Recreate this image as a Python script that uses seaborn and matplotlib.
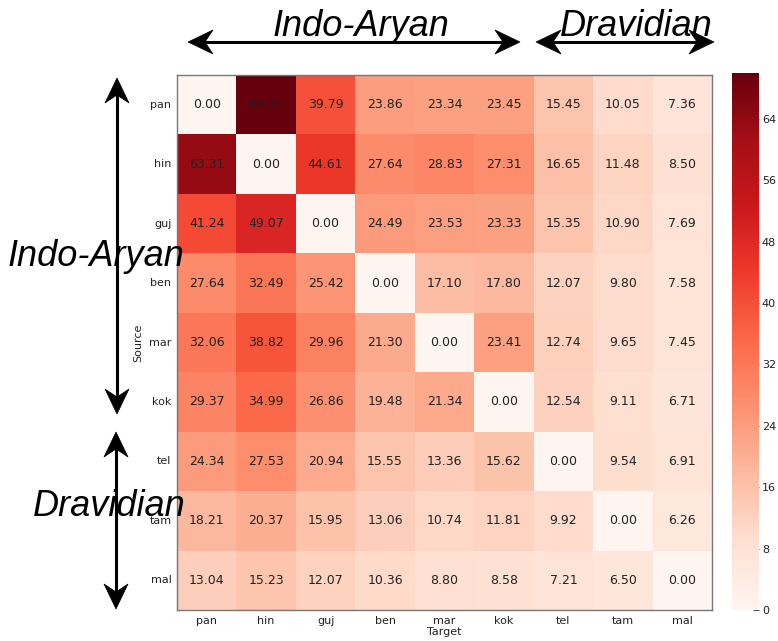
import numpy as np
import pandas as pd
import matplotlib
matplotlib.use("Agg")
import matplotlib.pyplot as plt
from matplotlib.patches import Polygon
from matplotlib.lines import Line2D
import seaborn as sns

langs = ["pan", "hin", "guj", "ben", "mar", "kok", "tel", "tam", "mal"]
row_pan = [0.00, 69.97, 39.79, 23.86, 23.34, 23.45, 15.45, 10.05, 7.36]
row_hin = [63.31, 0.00, 44.61, 27.64, 28.83, 27.31, 16.65, 11.48, 8.50]
row_guj = [41.24, 49.07, 0.00, 24.49, 23.53, 23.33, 15.35, 10.90, 7.69]
row_ben = [27.64, 32.49, 25.42, 0.00, 17.10, 17.80, 12.07, 9.80, 7.58]
row_mar = [32.06, 38.82, 29.96, 21.30, 0.00, 23.41, 12.74, 9.65, 7.45]
row_kok = [29.37, 34.99, 26.86, 19.48, 21.34, 0.00, 12.54, 9.11, 6.71]
row_tel = [24.34, 27.53, 20.94, 15.55, 13.36, 15.62, 0.00, 9.54, 6.91]
row_tam = [18.21, 20.37, 15.95, 13.06, 10.74, 11.81, 9.92, 0.00, 6.26]
row_mal = [13.04, 15.23, 12.07, 10.36, 8.80, 8.58, 7.21, 6.50, 0.00]
cbar_ticks = [0, 8, 16, 24, 32, 40, 48, 56, 64]

data = pd.DataFrame([row_pan, row_hin, row_guj, row_ben, row_mar, row_kok,
                     row_tel, row_tam, row_mal], index=langs, columns=langs)

sns.set_style("white")
plt.rcParams["font.family"] = ["DejaVu Sans"]

fig = plt.figure(figsize=(7.78, 6.41), dpi=100)
W, H = 778, 641
def fx(x): return x / W
def fy(y): return 1 - y / H

ax = fig.add_axes([fx(177), fy(610), fx(712) - fx(177), fy(75) - fy(610)])
cax = fig.add_axes([fx(732), fy(610), fx(759) - fx(732), fy(73) - fy(610)])

sns.heatmap(data, ax=ax, cbar_ax=cax, cmap="Reds", vmin=0, vmax=float(data.values.max()),
            annot=True, fmt=".2f", annot_kws={"color": "#222222", "fontsize": 9},
            cbar_kws={"ticks": cbar_ticks})

for s in ax.spines.values():
    s.set_visible(True)
    s.set_color("#777777")
    s.set_linewidth(1)
ax.tick_params(axis="both", which="both", direction="in", length=4, width=0.8,
               color="#555555", top=True, right=True, bottom=True, left=True,
               labelsize=8, labelcolor="#222222", pad=4)
ax.set_xticklabels(langs, rotation=0)
ax.set_yticklabels(langs, rotation=0)
ax.set_xlabel("Target", fontsize=8, color="#222222", labelpad=1)
ax.set_ylabel("Source", fontsize=8, color="#222222", labelpad=4)

cax.tick_params(direction="in", length=4, width=0.8, color="#555555",
                labelsize=8, labelcolor="#222222", pad=2)
cb = ax.collections[0].colorbar
cb.outline.set_visible(True)
cb.outline.set_edgecolor("#777777")

# overlay annotations: double-headed stealth arrows and group labels
def head(tip, d, L=25, w=12, notch=8):
    tx, ty = tip
    dx, dy = d
    nx, ny = -dy, dx
    pts = [(tx, ty),
           (tx + L * dx + w * nx, ty + L * dy + w * ny),
           (tx + (L - notch) * dx, ty + (L - notch) * dy),
           (tx + L * dx - w * nx, ty + L * dy - w * ny)]
    return Polygon([(fx(px), fy(py)) for px, py in pts], closed=True,
                   transform=fig.transFigure, facecolor="black", edgecolor="black",
                   lw=0.5)

def darrow(x1, y1, x2, y2):
    v = np.array([x2 - x1, y2 - y1], dtype=float)
    length = np.hypot(*v)
    u = v / length
    fig.add_artist(Line2D([fx(x1 + 10 * u[0]), fx(x2 - 10 * u[0])],
                          [fy(y1 + 10 * u[1]), fy(y2 - 10 * u[1])],
                          transform=fig.transFigure, color="black", lw=2.2))
    fig.add_artist(head((x1, y1), (u[0], u[1])))
    fig.add_artist(head((x2, y2), (-u[0], -u[1])))

darrow(188, 42, 520, 42)
darrow(536, 42, 714, 42)
darrow(117, 78, 117, 414)
darrow(116, 432, 116, 609)

tkw = dict(fontsize=26, style="italic", family=["Liberation Sans", "DejaVu Sans"],
           color="black", ha="center", va="center")
fig.text(fx(361), fy(26), "Indo-Aryan", **tkw)
fig.text(fx(636), fy(26), "Dravidian", **tkw)
fig.text(fx(96), fy(256), "Indo-Aryan", **tkw)
fig.text(fx(109), fy(506), "Dravidian", **tkw)

fig.savefig("out.png", dpi=100)
